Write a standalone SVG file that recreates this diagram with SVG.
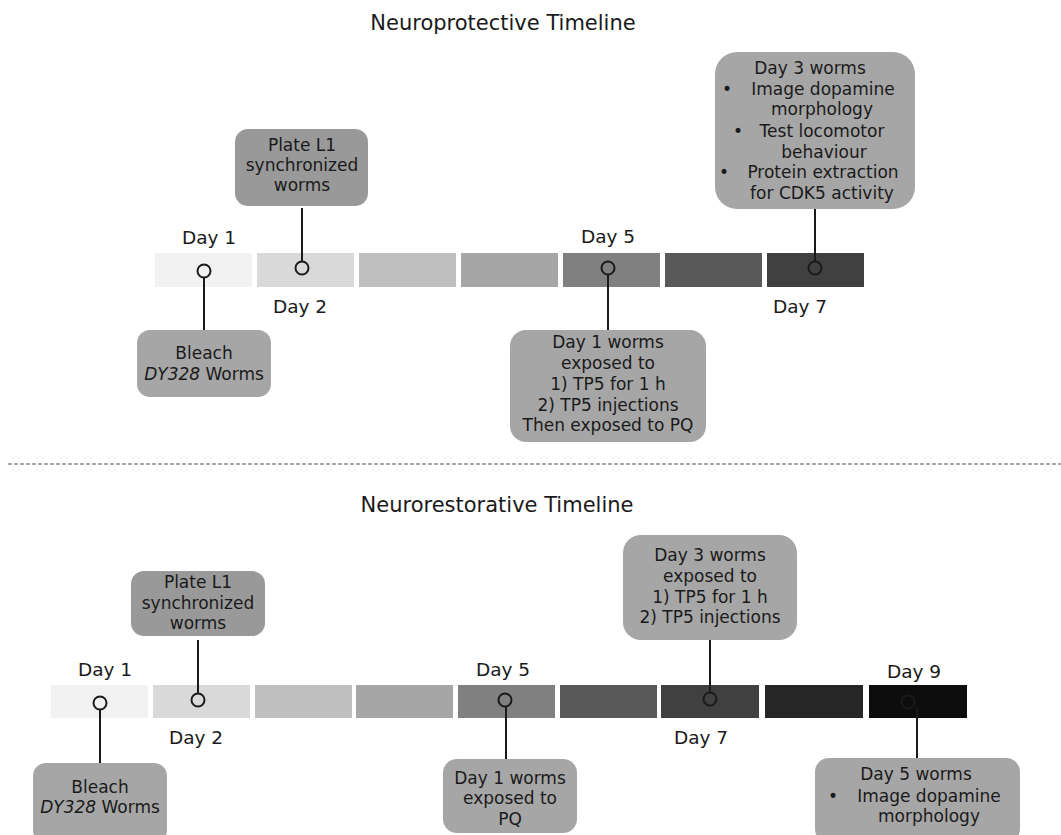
<svg xmlns="http://www.w3.org/2000/svg" width="1061" height="835" viewBox="0 0 1061 835">
<style>
text{font-family:"DejaVu Sans","Liberation Sans",sans-serif;fill:#1a1a1a}
.title{font-size:21px;text-anchor:middle}
.day{font-size:18.5px;text-anchor:middle}
.bt{font-size:17px;text-anchor:middle}
.bl{font-size:17px}
.box{fill:#a6a6a6}
.boxd{fill:#999999}
.ln{stroke:#1a1a1a;stroke-width:2;fill:none}
.dot{stroke:#1a1a1a;stroke-width:2;fill:none}
</style>
<rect width="1061" height="835" fill="#ffffff"/>

<text class="title" x="503" y="30">Neuroprotective Timeline</text>
<line x1="8" y1="464" x2="1061" y2="464" stroke="#555" stroke-width="1.2" stroke-dasharray="4,2"/>
<text class="title" x="497" y="512">Neurorestorative Timeline</text>

<g id="bar-top">
<rect x="155" y="253" width="97" height="34" fill="#f2f2f2"/>
<rect x="257" y="253" width="97" height="34" fill="#d9d9d9"/>
<rect x="359" y="253" width="97" height="34" fill="#bfbfbf"/>
<rect x="461" y="253" width="97" height="34" fill="#a6a6a6"/>
<rect x="563" y="253" width="97" height="34" fill="#808080"/>
<rect x="665" y="253" width="97" height="34" fill="#595959"/>
<rect x="767" y="253" width="97" height="34" fill="#404040"/>
</g>
<g id="bar-bottom">
<rect x="51" y="685" width="97" height="33" fill="#f2f2f2"/>
<rect x="153" y="685" width="97" height="33" fill="#d9d9d9"/>
<rect x="255" y="685" width="97" height="33" fill="#bfbfbf"/>
<rect x="356" y="685" width="97" height="33" fill="#a6a6a6"/>
<rect x="458" y="685" width="97" height="33" fill="#808080"/>
<rect x="560" y="685" width="97" height="33" fill="#595959"/>
<rect x="661" y="685" width="98" height="33" fill="#404040"/>
<rect x="765" y="685" width="98" height="33" fill="#262626"/>
<rect x="869" y="685" width="98" height="33" fill="#0d0d0d"/>
</g>

<g id="day-labels">
<text class="day" x="209" y="244">Day 1</text>
<text class="day" x="300" y="313">Day 2</text>
<text class="day" x="608" y="243">Day 5</text>
<text class="day" x="800" y="313">Day 7</text>
<text class="day" x="105" y="676">Day 1</text>
<text class="day" x="196" y="744">Day 2</text>
<text class="day" x="503" y="676">Day 5</text>
<text class="day" x="701" y="744">Day 7</text>
<text class="day" x="914" y="678">Day 9</text>
</g>

<g id="connectors">
<line class="ln" x1="204" y1="278" x2="204" y2="330"/>
<line class="ln" x1="302" y1="208" x2="302" y2="261"/>
<line class="ln" x1="608" y1="275" x2="608" y2="330"/>
<line class="ln" x1="815" y1="209" x2="815" y2="261"/>
<line class="ln" x1="100" y1="710" x2="100" y2="763"/>
<line class="ln" x1="198" y1="640" x2="198" y2="693"/>
<line class="ln" x1="506" y1="707" x2="506" y2="759"/>
<line class="ln" x1="710" y1="640" x2="710" y2="692"/>
<line class="ln" x1="917" y1="707" x2="917" y2="758"/>
<circle class="dot" cx="204" cy="271" r="6.5"/>
<circle class="dot" cx="302" cy="268" r="6.5"/>
<circle class="dot" cx="608" cy="268" r="6.5"/>
<circle class="dot" cx="815" cy="268" r="6.5"/>
<circle class="dot" cx="100" cy="703" r="6.5"/>
<circle class="dot" cx="198" cy="700" r="6.5"/>
<circle class="dot" cx="505" cy="700" r="6.5"/>
<circle class="dot" cx="710" cy="699" r="6.5"/>
<circle class="dot" cx="908" cy="702" r="6.5"/>
</g>

<g id="top-bleach">
<rect class="box" x="137" y="330" width="134" height="67" rx="13"/>
<text class="bt" x="204" y="359">Bleach</text>
<text class="bt" x="204" y="380"><tspan font-style="italic">DY328</tspan> Worms</text>
</g>
<g id="top-plate">
<rect class="boxd" x="235" y="129" width="133" height="77" rx="13"/>
<text class="bt" x="302" y="151">Plate L1</text>
<text class="bt" x="302" y="171">synchronized</text>
<text class="bt" x="302" y="191">worms</text>
</g>
<g id="top-day5">
<rect class="box" x="510" y="330" width="196" height="112" rx="16"/>
<text class="bt" x="608" y="348">Day 1 worms</text>
<text class="bt" x="608" y="369">exposed to</text>
<text class="bt" x="608" y="390">1) TP5 for 1 h</text>
<text class="bt" x="608" y="411">2) TP5 injections</text>
<text class="bt" x="608" y="431">Then exposed to PQ</text>
</g>
<g id="top-day7">
<rect class="box" x="715" y="52" width="200" height="157" rx="22"/>
<text class="bt" x="810" y="74">Day 3 worms</text>
<text class="bl" x="722" y="95">•</text>
<text class="bt" x="823" y="95">Image dopamine</text>
<text class="bt" x="822" y="115">morphology</text>
<text class="bl" x="733" y="137">•</text>
<text class="bt" x="822" y="137">Test locomotor</text>
<text class="bt" x="824" y="158">behaviour</text>
<text class="bl" x="719" y="178">•</text>
<text class="bt" x="823" y="178">Protein extraction</text>
<text class="bt" x="822" y="199">for CDK5 activity</text>
</g>

<g id="bot-bleach">
<rect class="box" x="33" y="763" width="134" height="80" rx="13"/>
<text class="bt" x="100" y="793">Bleach</text>
<text class="bt" x="100" y="813"><tspan font-style="italic">DY328</tspan> Worms</text>
</g>
<g id="bot-plate">
<rect class="boxd" x="131" y="571" width="134" height="65" rx="13"/>
<text class="bt" x="198" y="588">Plate L1</text>
<text class="bt" x="198" y="609">synchronized</text>
<text class="bt" x="198" y="629">worms</text>
</g>
<g id="bot-day5">
<rect class="box" x="443" y="759" width="134" height="74" rx="14"/>
<text class="bt" x="510" y="784">Day 1 worms</text>
<text class="bt" x="510" y="804">exposed to</text>
<text class="bt" x="510" y="825">PQ</text>
</g>
<g id="bot-day7">
<rect class="box" x="623" y="535" width="174" height="105" rx="18"/>
<text class="bt" x="710" y="561">Day 3 worms</text>
<text class="bt" x="710" y="582">exposed to</text>
<text class="bt" x="710" y="603">1) TP5 for 1 h</text>
<text class="bt" x="710" y="623">2) TP5 injections</text>
</g>
<g id="bot-day9">
<rect class="box" x="815" y="758" width="205" height="85" rx="14"/>
<text class="bt" x="916" y="780">Day 5 worms</text>
<text class="bl" x="828" y="802">•</text>
<text class="bt" x="929" y="802">Image dopamine</text>
<text class="bt" x="929" y="822">morphology</text>
</g>
</svg>
